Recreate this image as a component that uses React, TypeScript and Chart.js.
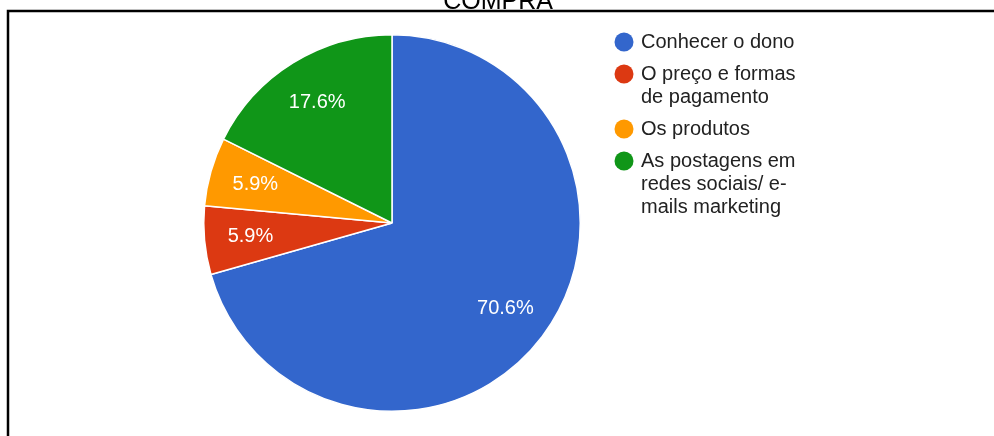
import React, { useEffect, useRef } from "react";
import { Chart, registerables } from "chart.js";

Chart.register(...registerables);

const titleText = "COMPRA";
const categories = [
  "Conhecer o dono",
  "O preço e formas de pagamento",
  "Os produtos",
  "As postagens em redes sociais/ e-mails marketing",
];
const legendLines = [
  ["Conhecer o dono"],
  ["O preço e formas", "de pagamento"],
  ["Os produtos"],
  ["As postagens em", "redes sociais/ e-", "mails marketing"],
];
const values = [12, 1, 1, 3];
const colors = ["#3366cc", "#dc3912", "#ff9900", "#109618"];

const FONT = "Arial, 'Liberation Sans', sans-serif";

const customPlugin = {
  id: "customDecor",
  beforeDraw(chart: any) {
    const ctx = chart.ctx;
    ctx.save();
    ctx.fillStyle = "#ffffff";
    ctx.fillRect(0, 0, chart.width, chart.height);
    // frame
    ctx.strokeStyle = "#000000";
    ctx.lineWidth = 2.5;
    ctx.beginPath();
    ctx.moveTo(8, chart.height + 10);
    ctx.lineTo(8, 11);
    ctx.lineTo(chart.width + 10, 11);
    ctx.stroke();
    // title
    ctx.fillStyle = "#000000";
    ctx.font = `25px ${FONT}`;
    ctx.textAlign = "center";
    ctx.textBaseline = "alphabetic";
    ctx.fillText(titleText, 498, 9);
    ctx.restore();
  },
  afterDatasetsDraw(chart: any) {
    const ctx = chart.ctx;
    const meta = chart.getDatasetMeta(0);
    const data = chart.data.datasets[0].data as number[];
    const total = data.reduce((a, b) => a + b, 0);
    ctx.save();
    ctx.fillStyle = "#ffffff";
    ctx.font = `20px ${FONT}`;
    ctx.textAlign = "center";
    ctx.textBaseline = "middle";
    meta.data.forEach((el: any, i: number) => {
      const p = el.getProps(["x", "y", "startAngle", "endAngle", "outerRadius"], true);
      const mid = (p.startAngle + p.endAngle) / 2;
      const r = p.outerRadius * 0.755;
      const x = p.x + Math.cos(mid) * r;
      const y = p.y + Math.sin(mid) * r;
      const pct = ((data[i] / total) * 100).toFixed(1) + "%";
      ctx.fillText(pct, x, y);
    });
    ctx.restore();
  },
  afterDraw(chart: any) {
    const ctx = chart.ctx;
    ctx.save();
    ctx.font = `20px ${FONT}`;
    ctx.textAlign = "left";
    ctx.textBaseline = "middle";
    const lineH = 23;
    const gap = 9;
    let y = 42;
    legendLines.forEach((lines, i) => {
      ctx.fillStyle = colors[i];
      ctx.beginPath();
      ctx.arc(624, y, 9.5, 0, Math.PI * 2);
      ctx.fill();
      ctx.fillStyle = "#222222";
      lines.forEach((ln, j) => {
        ctx.fillText(ln, 641, y + j * lineH);
      });
      y += lines.length * lineH + gap;
    });
    ctx.restore();
  },
};

export default function App() {
  const ref = useRef<HTMLCanvasElement | null>(null);
  useEffect(() => {
    document.body.style.margin = "0";
    const canvas = ref.current;
    if (!canvas) return;
    const chart = new Chart(canvas, {
      type: "pie",
      data: {
        labels: categories,
        datasets: [
          {
            data: values,
            backgroundColor: colors,
            borderColor: "#ffffff",
            borderWidth: 1.5,
          },
        ],
      },
      options: {
        responsive: false,
        animation: false,
        layout: { padding: { left: 203, right: 413, top: 34, bottom: 24 } },
        plugins: {
          legend: { display: false },
          tooltip: { enabled: false },
          title: { display: false },
        },
      },
      plugins: [customPlugin],
    });
    return () => chart.destroy();
  }, []);
  return (
    <div style={{ width: 994, height: 436 }}>
      <canvas ref={ref} width={994} height={436} style={{ display: "block", width: 994, height: 436 }} />
    </div>
  );
}
